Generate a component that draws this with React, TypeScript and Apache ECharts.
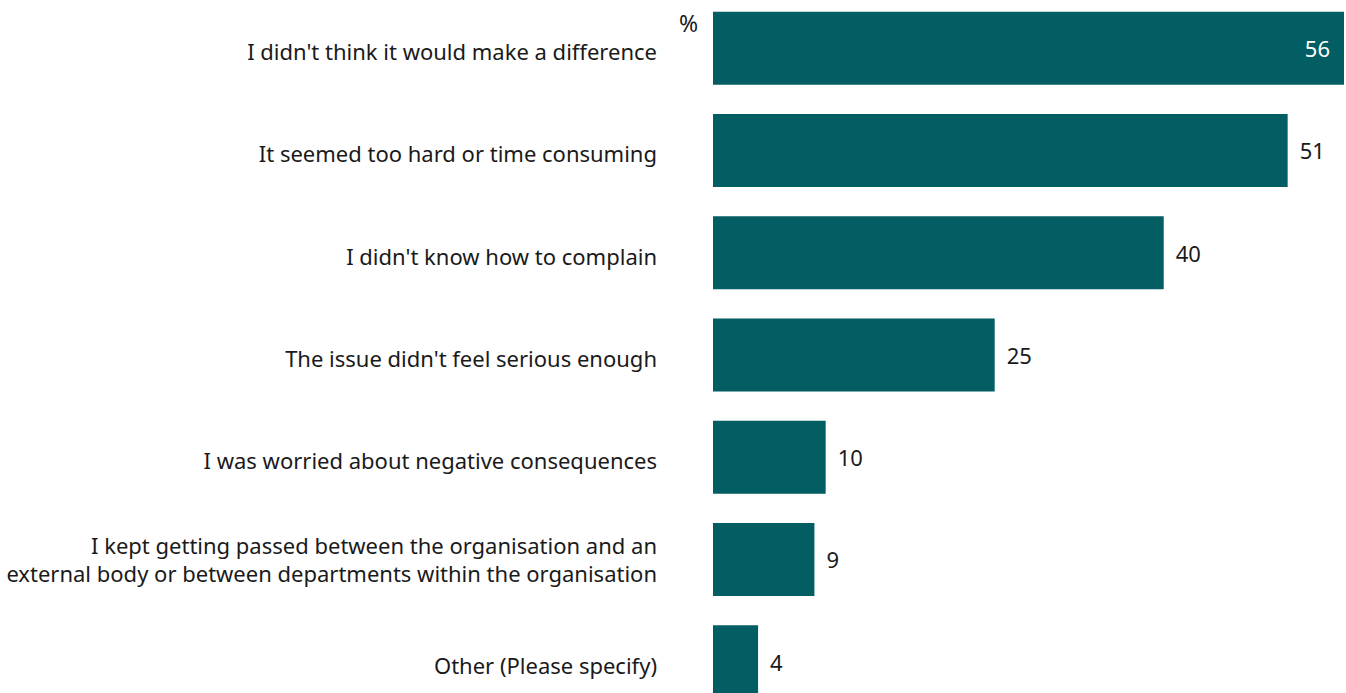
import React, { useEffect, useRef } from "react";
import * as echarts from "echarts";

const categories = [
  "I didn't think it would make a difference",
  "It seemed too hard or time consuming",
  "I didn't know how to complain",
  "The issue didn't feel serious enough",
  "I was worried about negative consequences",
  "I kept getting passed between the organisation and an\nexternal body or between departments within the organisation",
  "Other (Please specify)",
];
const values = [56, 51, 40, 25, 10, 9, 4];
const unitLabel = "%";

const FONT = "Noto Sans";
const BAR = "#035E63";

export default function App() {
  const ref = useRef<HTMLDivElement>(null);
  useEffect(() => {
    const chart = echarts.init(ref.current!, null, { renderer: "svg" });
    chart.setOption({
      animation: false,
      grid: { left: 713, right: 2, top: 0, bottom: 7.2, containLabel: false },
      xAxis: {
        type: "value",
        min: 0,
        max: 56,
        show: false,
      },
      yAxis: {
        type: "category",
        data: categories,
        inverse: true,
        axisLine: { show: false },
        axisTick: { show: false },
        splitLine: { show: false },
        axisLabel: {
          margin: 56,
          color: "#1a1a1a",
          fontFamily: FONT,
          fontSize: 22,
          lineHeight: 28,
          align: "right",
          formatter: (v: string) => (v.includes("\n") ? v : `{s|${v}}`),
          rich: {
            s: {
              fontFamily: FONT,
              fontSize: 22,
              color: "#1a1a1a",
              lineHeight: 28,
              padding: [6, 0, 0, 0],
            },
          },
        },
      },
      series: [
        {
          type: "bar",
          data: values.map((v, i) =>
            i === 0
              ? {
                  value: v,
                  label: { position: "insideRight", color: "#ffffff", distance: 14 },
                }
              : v
          ),
          barWidth: 73,
          itemStyle: { color: BAR },
          label: {
            show: true,
            position: "right",
            distance: 12,
            color: "#1a1a1a",
            fontFamily: FONT,
            fontSize: 22,
          },
        },
      ],
      graphic: [
        {
          type: "text",
          left: 679,
          top: 14,
          style: { text: unitLabel, fontFamily: FONT, fontSize: 23, fill: "#1a1a1a" },
        },
      ],
    });
    return () => chart.dispose();
  }, []);
  return (
    <div
      ref={ref}
      style={{ position: "fixed", left: 0, top: -3, width: 1346, height: 723, background: "#fff" }}
    />
  );
}
